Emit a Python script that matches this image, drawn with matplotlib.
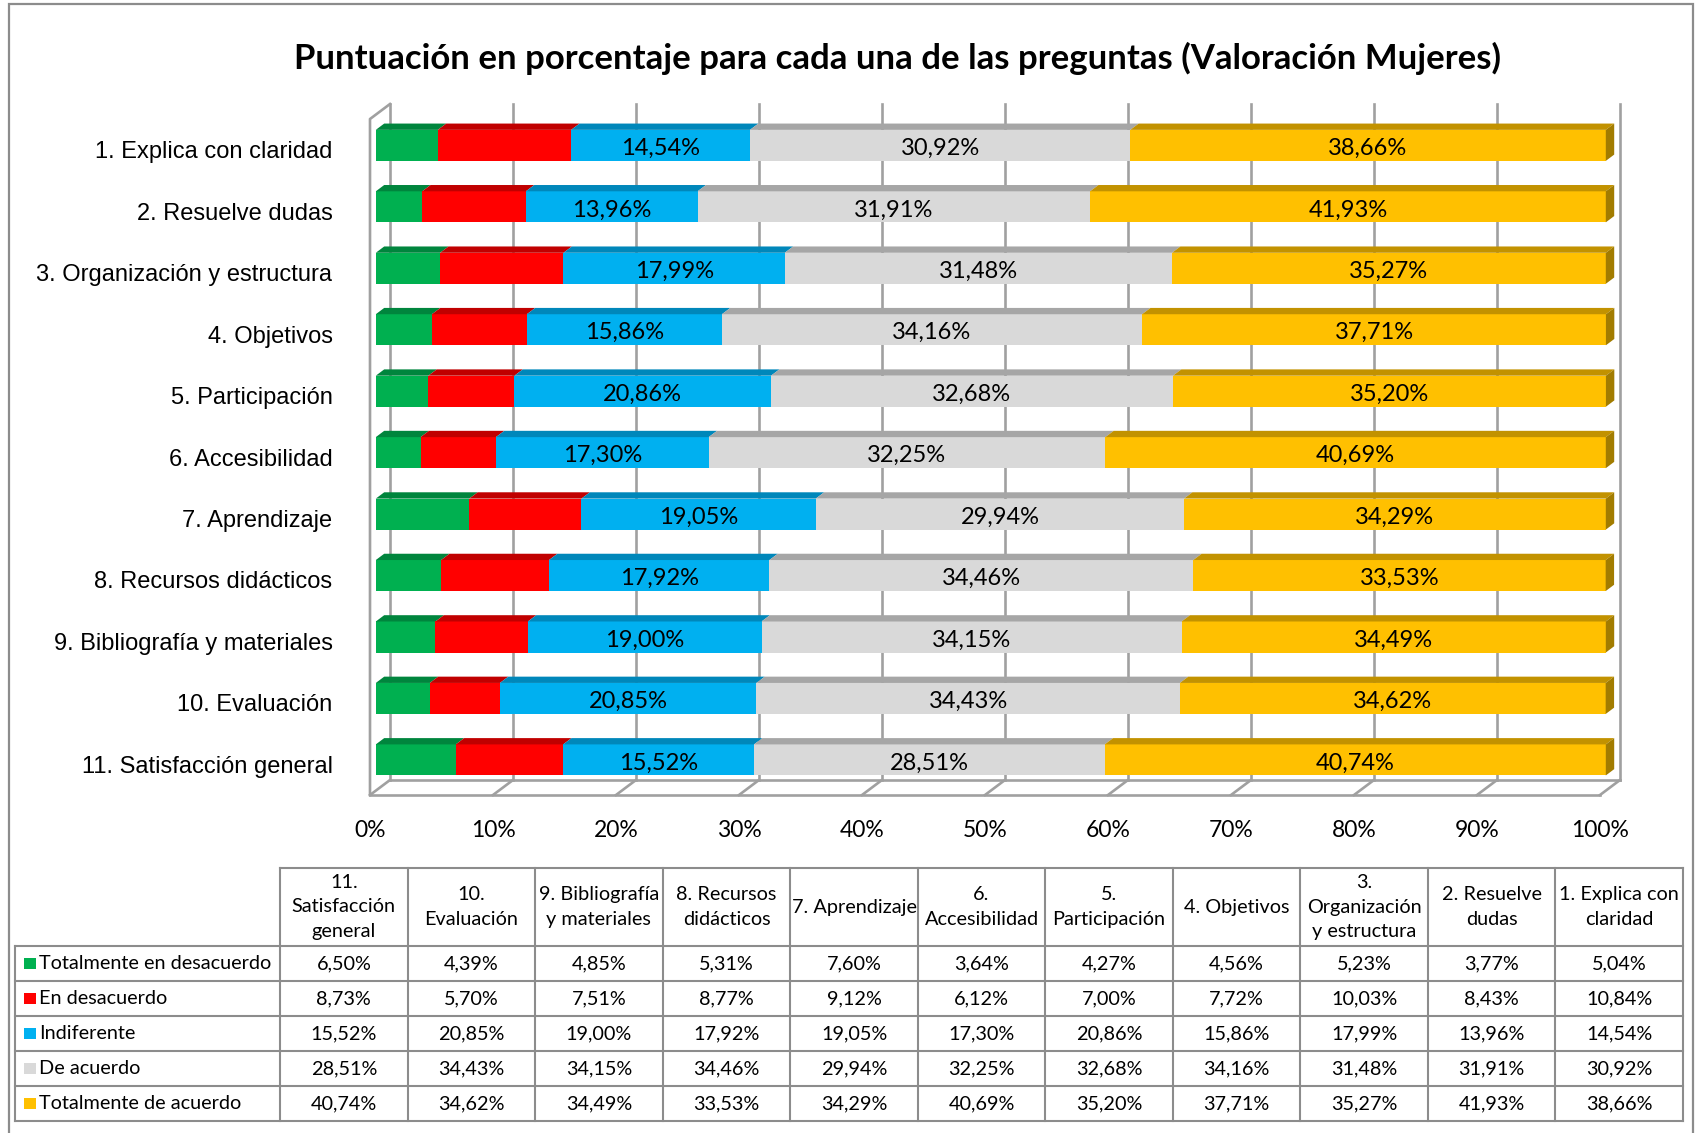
import numpy as np
import matplotlib
matplotlib.use("Agg")
import matplotlib.pyplot as plt
from matplotlib.patches import Polygon, Rectangle

# datos (orden de las preguntas 1..11)
preguntas = ["1. Explica con claridad", "2. Resuelve dudas", "3. Organización y estructura",
             "4. Objetivos", "5. Participación", "6. Accesibilidad", "7. Aprendizaje",
             "8. Recursos didácticos", "9. Bibliografía y materiales", "10. Evaluación",
             "11. Satisfacción general"]
cabeceras = ["1. Explica con\nclaridad", "2. Resuelve\ndudas", "3.\nOrganización\ny estructura",
             "4. Objetivos", "5.\nParticipación", "6.\nAccesibilidad", "7. Aprendizaje",
             "8. Recursos\ndidácticos", "9. Bibliografía\ny materiales", "10.\nEvaluación",
             "11.\nSatisfacción\ngeneral"]
series = ["Totalmente en desacuerdo", "En desacuerdo", "Indiferente", "De acuerdo",
          "Totalmente de acuerdo"]
tot_desacuerdo = [5.04, 3.77, 5.23, 4.56, 4.27, 3.64, 7.60, 5.31, 4.85, 4.39, 6.50]
desacuerdo = [10.84, 8.43, 10.03, 7.72, 7.00, 6.12, 9.12, 8.77, 7.51, 5.70, 8.73]
indiferente = [14.54, 13.96, 17.99, 15.86, 20.86, 17.30, 19.05, 17.92, 19.00, 20.85, 15.52]
de_acuerdo = [30.92, 31.91, 31.48, 34.16, 32.68, 32.25, 29.94, 34.46, 34.15, 34.43, 28.51]
tot_acuerdo = [38.66, 41.93, 35.27, 37.71, 35.20, 40.69, 34.29, 33.53, 34.49, 34.62, 40.74]

colores = ["#00B050", "#FF0000", "#00B0F0", "#D9D9D9", "#FFC000"]
colores_sup = ["#00853D", "#C00000", "#0087BA", "#A6A6A6", "#C29200"]
color_lateral = "#A27C00"
gris = "#A0A0A0"
CAL = "Lato"
ARIAL = "Liberation Sans"

W, H = 1695, 1133


def caja(l, t, r, b):
    # caja en pixeles -> fraccion de figura
    return [l / W, 1 - b / H, (r - l) / W, (b - t) / H]


def pct(v):
    return f"{v:.2f}".replace(".", ",") + "%"


fig = plt.figure(figsize=(W / 100, H / 100), dpi=100)
fig.patches.append(Rectangle((9 / W, -0.05), (1693 - 9) / W, 1.05 - 4 / H, transform=fig.transFigure,
                             fill=False, edgecolor="#8C8C8C", lw=1.6))
fig.text(897 / W, 1 - 58 / H, "Puntuación en porcentaje para cada una de las preguntas (Valoración Mujeres)",
         ha="center", va="center", fontsize=25, fontweight="bold", family=CAL)

# ---- grafico de barras con efecto 3D ----
ax = fig.add_axes(caja(370, 119, 1600, 795))
n = len(preguntas)
filas = np.arange(n)
ax.set_xlim(0, 100)
ax.set_ylim(n - 0.5, -0.5)
DX = 20 / 12.3       # profundidad en % del eje x
DY = -15 / 61.45     # profundidad en filas (hacia arriba)
ZA, D = 0.29, 0.42   # posicion y grosor de las barras en profundidad
ALTO = 0.505
y_top, y_bot = -0.5, n - 0.5

for v in range(0, 101, 10):
    ax.plot([v + DX, v + DX], [y_top + DY, y_bot + DY], color=gris, lw=1.9, zorder=1, clip_on=False)
    ax.plot([v, v + DX], [y_bot, y_bot + DY], color=gris, lw=1.9, zorder=1, clip_on=False)
ax.plot([0, 100], [y_bot, y_bot], color=gris, lw=1.9, zorder=1, clip_on=False)
ax.plot([DX, 100 + DX], [y_bot + DY, y_bot + DY], color=gris, lw=1.9, zorder=1, clip_on=False)
ax.plot([0, 0, DX], [y_bot, y_top, y_top + DY], color=gris, lw=1.9, zorder=4, clip_on=False)

datos = np.array([tot_desacuerdo, desacuerdo, indiferente, de_acuerdo, tot_acuerdo])
izq = np.zeros(n)
for k in range(len(series)):
    ancho = datos[k]
    ax.barh(filas + ZA * DY, ancho, left=izq + ZA * DX, height=ALTO, color=colores[k], zorder=3,
            clip_on=False)
    for i in range(n):
        x0 = izq[i] + ZA * DX
        x1 = x0 + ancho[i]
        yt = filas[i] + ZA * DY - ALTO / 2
        ax.add_patch(Polygon([(x0, yt), (x1, yt), (x1 + D * DX, yt + D * DY), (x0 + D * DX, yt + D * DY)],
                             closed=True, facecolor=colores_sup[k], edgecolor="none", zorder=3, clip_on=False))
        if k >= 2:
            ax.text(x0 + ancho[i] / 2, filas[i] + ZA * DY + 0.05, pct(ancho[i]), ha="center", va="center",
                    fontsize=17, family=CAL, zorder=5)
    izq += ancho

# cara lateral del ultimo tramo
for i in range(n):
    x1 = izq[i] + ZA * DX
    yt = filas[i] + ZA * DY - ALTO / 2
    yb = yt + ALTO
    ax.add_patch(Polygon([(x1, yt), (x1, yb), (x1 + D * DX, yb + D * DY), (x1 + D * DX, yt + D * DY)],
                         closed=True, facecolor=color_lateral, edgecolor="none", zorder=3, clip_on=False))

ax.set_xticks(range(0, 101, 10))
ax.set_xticklabels([f"{v}%" for v in range(0, 101, 10)], fontsize=16.5, family=CAL)
ax.set_yticks(filas)
ax.set_yticklabels(preguntas, fontsize=17, family=ARIAL)
ax.tick_params(axis="x", length=0, pad=18)
ax.tick_params(axis="y", length=0, pad=27)
ax.patch.set_visible(False)
for s in ax.spines.values():
    s.set_visible(False)

# ---- tabla de datos ----
tax = fig.add_axes(caja(15, 868, 1683, 1121))
LAB = (280 - 15) / 127.5
CAB = 78 / 35
tax.set_xlim(-LAB, n)
tax.set_ylim(CAB + 5, 0)
tax.axis("off")
borde = "#8C8C8C"
for r in range(6):
    tax.plot([-LAB, n], [CAB + r, CAB + r], color=borde, lw=1.5, clip_on=False)
tax.plot([0, n], [0, 0], color=borde, lw=1.5, clip_on=False)
tax.plot([-LAB, -LAB], [CAB, CAB + 5], color=borde, lw=1.5, clip_on=False)
for c in range(n + 1):
    tax.plot([c, c], [0, CAB + 5], color=borde, lw=1.5, clip_on=False)

orden = list(range(n))[::-1]
for j, q in enumerate(orden):
    tax.text(j + 0.5, CAB / 2, cabeceras[q], ha="center", va="center", fontsize=14.3, family=CAL,
             linespacing=1.55)
    for k in range(len(series)):
        tax.text(j + 0.5, CAB + k + 0.5, pct(datos[k][q]), ha="center", va="center", fontsize=14.3, family=CAL)
for k, nombre in enumerate(series):
    tax.add_patch(Rectangle((-LAB + 0.07, CAB + k + 0.33), 0.094, 0.34, facecolor=colores[k],
                            edgecolor="none", clip_on=False))
    tax.text(-LAB + 0.19, CAB + k + 0.5, nombre, ha="left", va="center", fontsize=14.3, family=CAL)

fig.savefig("out.png", dpi=100)
